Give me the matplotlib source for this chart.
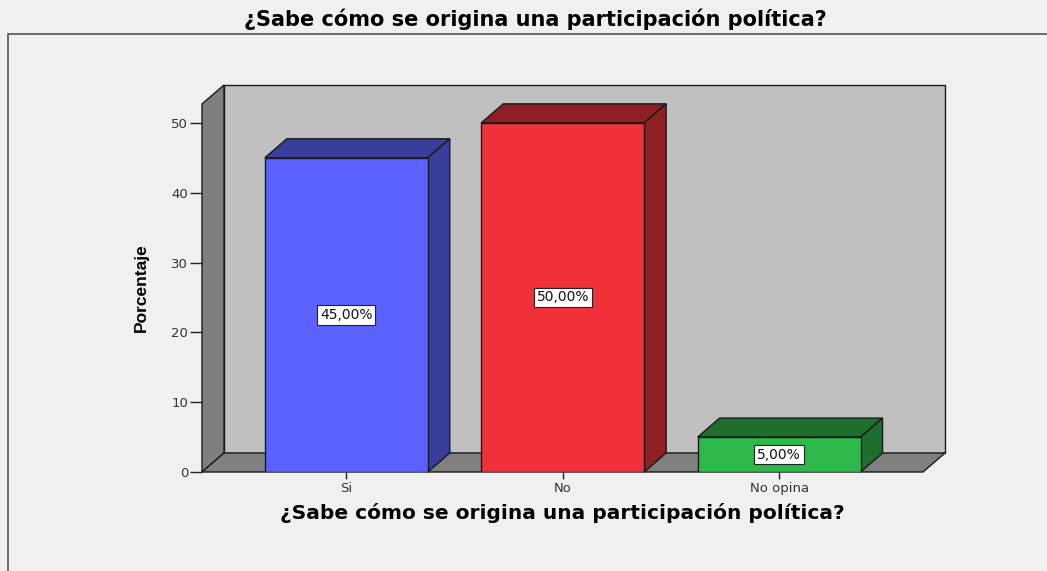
import matplotlib.pyplot as plt
from matplotlib.patches import Polygon, Rectangle

# Values (percent of respondents).
categories = ["Si", "No", "No opina"]
percentages = [45.0, 50.0, 5.0]
value_labels = ["45,00%", "50,00%", "5,00%"]
y_ticks = [0, 10, 20, 30, 40, 50]

TITLE = "¿Sabe cómo se origina una participación política?"

# Face colours: front, then the darker top/side shade.
FRONT_COLORS = ["#5b62ff", "#f0313a", "#2db84a"]
SHADE_COLORS = ["#393d9c", "#8e1f25", "#1e6e2e"]

FIG_W, FIG_H = 1047, 571
X_MIN, X_MAX = -0.667, 2.665
Y_MAX = 52.7
BAR_WIDTH = 0.753
# 3D depth offset, in data units
DX = 0.1016
DY = 2.72


def poly(ax, pts, color, z):
    ax.add_patch(Polygon(pts, closed=True, facecolor=color, edgecolor="#1a1a1a",
                         linewidth=1.0, clip_on=False, zorder=z))


fig = plt.figure(figsize=(FIG_W / 100, FIG_H / 100), dpi=100, facecolor="#f0f0f0")

# outer chart frame
fig.add_artist(Rectangle((8 / FIG_W, -0.05), 1.1, 1 - 34 / FIG_H + 0.05,
                         transform=fig.transFigure, facecolor="none",
                         edgecolor="#555555", linewidth=1.2))

left, right = 202 / FIG_W, 923 / FIG_W
bottom, top = 1 - 472 / FIG_H, 1 - 104 / FIG_H
ax = fig.add_axes([left, bottom, right - left, top - bottom])
ax.set_facecolor("none")
ax.set_xlim(X_MIN, X_MAX)
ax.set_ylim(0, Y_MAX)
for spine in ax.spines.values():
    spine.set_visible(False)

# walls and floor
poly(ax, [(X_MIN + DX, DY), (X_MAX + DX, DY), (X_MAX + DX, Y_MAX + DY), (X_MIN + DX, Y_MAX + DY)], "#c0c0c0", 1)
poly(ax, [(X_MIN, 0), (X_MIN + DX, DY), (X_MIN + DX, Y_MAX + DY), (X_MIN, Y_MAX)], "#7f7f7f", 1)
poly(ax, [(X_MIN, 0), (X_MAX, 0), (X_MAX + DX, DY), (X_MIN + DX, DY)], "#808080", 1)

# bars
positions = range(len(categories))
ax.bar(positions, percentages, width=BAR_WIDTH, color=FRONT_COLORS,
       edgecolor="#1a1a1a", linewidth=1.0, zorder=3)
for i, val in enumerate(percentages):
    x0, x1 = i - BAR_WIDTH / 2, i + BAR_WIDTH / 2
    poly(ax, [(x0, val), (x1, val), (x1 + DX, val + DY), (x0 + DX, val + DY)], SHADE_COLORS[i], 2)
    poly(ax, [(x1, 0), (x1 + DX, DY), (x1 + DX, val + DY), (x1, val)], SHADE_COLORS[i], 2)
    ax.text(i, val / 2, value_labels[i], ha="center", va="center", fontsize=10,
            color="#111111", zorder=5,
            bbox=dict(boxstyle="square,pad=0.2", facecolor="white", edgecolor="#222222", linewidth=0.8))

ax.set_yticks(y_ticks)
ax.set_xticks(list(positions))
ax.set_xticklabels(categories)
ax.tick_params(axis="y", direction="out", length=9, width=1.0, color="#222222",
               labelsize=9.5, labelcolor="#333333", pad=1)
ax.tick_params(axis="x", direction="out", length=5, width=1.0, color="#222222",
               labelsize=9.5, labelcolor="#333333", pad=2)

ax.set_ylabel("Porcentaje", fontsize=12.5, fontweight="bold",
              family=["Liberation Sans", "DejaVu Sans"], labelpad=16)
ax.set_xlabel(TITLE, fontsize=14.5, fontweight="bold", labelpad=6)

fig.text(535 / FIG_W, 1 - 19 / FIG_H, TITLE, ha="center", va="center",
         fontsize=15, fontweight="bold")

fig.savefig("out.png", dpi=100, facecolor=fig.get_facecolor())
